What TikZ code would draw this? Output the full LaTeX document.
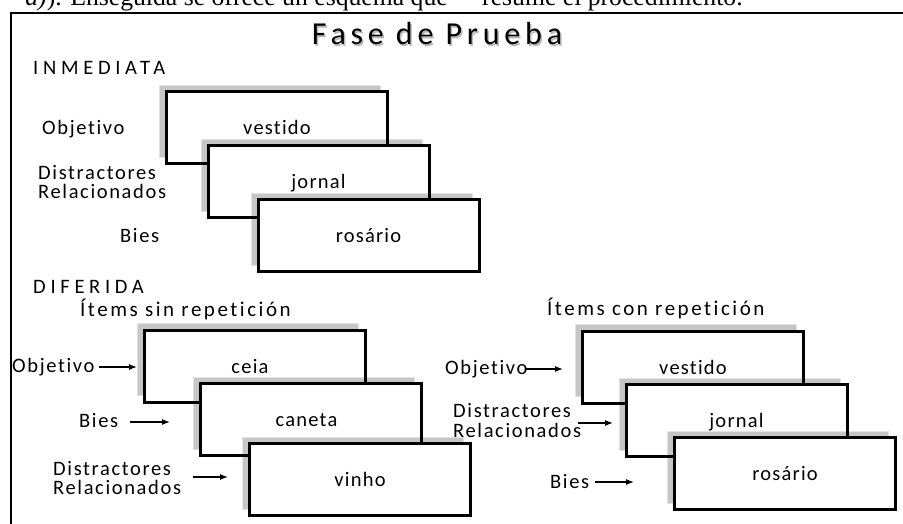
\documentclass[tikz,border=0pt]{standalone}
\usepackage{fontspec}
\setmainfont{Carlito}
\newfontfamily\lblfont[LetterSpace=8,Ligatures=NoCommon]{Carlito}
\newfontfamily\capfont[LetterSpace=23,Ligatures=NoCommon]{Carlito}
\newfontfamily\ttlfont[LetterSpace=15,Ligatures=NoCommon]{Carlito}
\newfontfamily\itmfont[LetterSpace=12,Ligatures=NoCommon]{Carlito}
\newfontfamily\wordfont[LetterSpace=6,Ligatures=NoCommon]{Carlito}
\newfontfamily\bodyserif{Liberation Serif}
\usetikzlibrary{arrows.meta,calc}
\newcommand\shd[1]{\path[shadowfill] ($(#1.north west)+(-7,-6.5)$) rectangle ($(#1.south east)+(-7,-6.5)$);}
\newcommand\cfill[1]{\fill[white] (#1.north west) rectangle (#1.south east);}
\newcommand\cborder[1]{\draw[cardline] (#1.north west) rectangle (#1.south east);}
\begin{document}
\begin{tikzpicture}[x=1pt,y=-1pt,
  lbl/.style={anchor=base west, inner sep=0pt, font={\lblfont\fontsize{20.5}{24}\selectfont}},
  caplbl/.style={anchor=base west, inner sep=0pt, font={\capfont\fontsize{20.5}{24}\selectfont}},
  itm/.style={anchor=base west, inner sep=0pt, font={\itmfont\fontsize{21}{25}\selectfont}},
  ttl/.style={anchor=base, inner sep=0pt, font={\ttlfont\fontsize{32}{38}\selectfont}},
  word/.style={anchor=base, inner sep=0pt, font={\wordfont\fontsize{20.5}{24}\selectfont}},
  cardbox/.style={minimum width=221pt, minimum height=72pt, inner sep=0pt, outer sep=0pt, draw=none},
  shadowfill/.style={fill=gray!45, draw=gray!22, line width=0.8pt},
  cardline/.style={draw=black, line width=3pt},
  arr/.style={-{Latex[length=8pt,width=6pt]}, line width=1.3pt},
  frameline/.style={line width=2pt}]
\useasboundingbox (0,0) rectangle (903,524);
\clip (0,0) rectangle (903,524);
\fill[white] (0,0) rectangle (903,524);

% clipped running text
\node[anchor=base east, inner sep=0pt, font={\bodyserif\fontsize{25.7}{30}\selectfont}] (txtL) at (448,6) {\textit{a)}). Enseguida se ofrece un esquema que};
\node[anchor=base west, inner sep=0pt, font={\bodyserif\fontsize{25.7}{30}\selectfont}] (txtR) at (482,6) {resume el procedimiento.};

% frame
\coordinate (fBL) at (10.5,524);
\coordinate (fTL) at (10.5,13);
\coordinate (fTR) at (903,13);
\draw[frameline] (fBL) -- (fTL) -- (fTR);

% title
\node[ttl, text=gray!55] (titleshadow) at (438.5,46.5) {Fase de Prueba};
\node[ttl] (title) at (437,45) {Fase de Prueba};

% card frames (positions)
\node[cardbox] (A) at (277,127.5) {};
\node[cardbox] (B) at (318.5,181.5) {};
\node[cardbox] (C) at (368.5,235.5) {};
\node[cardbox] (D) at (255,366) {};
\node[cardbox] (E) at (310.5,419.5) {};
\node[cardbox] (F) at (360,479.5) {};
\node[cardbox] (G) at (693,367) {};
\node[cardbox] (H) at (736.5,420.5) {};
\node[cardbox] (I) at (785,473.5) {};

% stacked drawing
\shd{A}\cfill{A}\shd{B}\cborder{A}\cfill{B}\shd{C}\cborder{B}\cfill{C}\cborder{C}
\shd{D}\cfill{D}\shd{E}\cborder{D}\cfill{E}\shd{F}\cborder{E}\cfill{F}\cborder{F}
\shd{G}\cfill{G}\shd{H}\cborder{G}\cfill{H}\shd{I}\cborder{H}\cfill{I}\cborder{I}

% card words
\node[word] (wA) at ($(A.center)+(0,7.5)$) {vestido};
\node[word] (wB) at ($(B.center)+(0,7.5)$) {jornal};
\node[word] (wC) at ($(C.center)+(0,7.5)$) {rosário};
\node[word] (wD) at ($(D.center)+(-5,7)$) {ceia};
\node[word] (wE) at ($(E.center)+(-4,7)$) {caneta};
\node[word] (wF) at ($(F.center)+(0,7)$) {vinho};
\node[word] (wG) at ($(G.center)+(0,7)$) {vestido};
\node[word] (wH) at ($(H.center)+(0,7)$) {jornal};
\node[word] (wI) at ($(I.center)+(0,7)$) {rosário};

% section headings
\node[caplbl] (inm) at (33,75) {INMEDIATA};
\node[caplbl] (dif) at (33,293) {DIFERIDA};
\node[itm] (sinrep) at (80,316) {Ítems sin repetición};
\node[itm] (conrep) at (547,315) {Ítems con repetición};

% labels top group
\node[lbl] (tObj) at (42,135) {Objetivo};
\node[lbl] (tDis) at (38,180) {Distractores};
\node[lbl] (tRel) at (38,199) {Relacionados};
\node[lbl] (tBies) at (120,243) {Bies};

% labels bottom-left group
\node[lbl] (lObj) at (12,372) {Objetivo};
\node[lbl] (lBies) at (79,427) {Bies};
\node[lbl] (lDis) at (53,475) {Distractores};
\node[lbl] (lRel) at (53,494) {Relacionados};

% labels bottom-right group
\node[lbl] (rObj) at (445,374) {Objetivo};
\node[lbl] (rDis) at (453,417) {Distractores};
\node[lbl] (rRel) at (453,437) {Relacionados};
\node[lbl] (rBies) at (550,488) {Bies};

% arrows
\coordinate (a1s) at (99,367);  \coordinate (a1e) at (137,367);
\coordinate (a2s) at (130,422); \coordinate (a2e) at (170,422);
\coordinate (a3s) at (193,477); \coordinate (a3e) at (228,477);
\coordinate (a4s) at (525,369); \coordinate (a4e) at (563,369);
\coordinate (a5s) at (578,423); \coordinate (a5e) at (613,423);
\coordinate (a6s) at (595,482); \coordinate (a6e) at (634,482);
\draw[arr] (a1s) -- (a1e);
\draw[arr] (a2s) -- (a2e);
\draw[arr] (a3s) -- (a3e);
\draw[arr] (a4s) -- (a4e);
\draw[arr] (a5s) -- (a5e);
\draw[arr] (a6s) -- (a6e);
\end{tikzpicture}
\end{document}
